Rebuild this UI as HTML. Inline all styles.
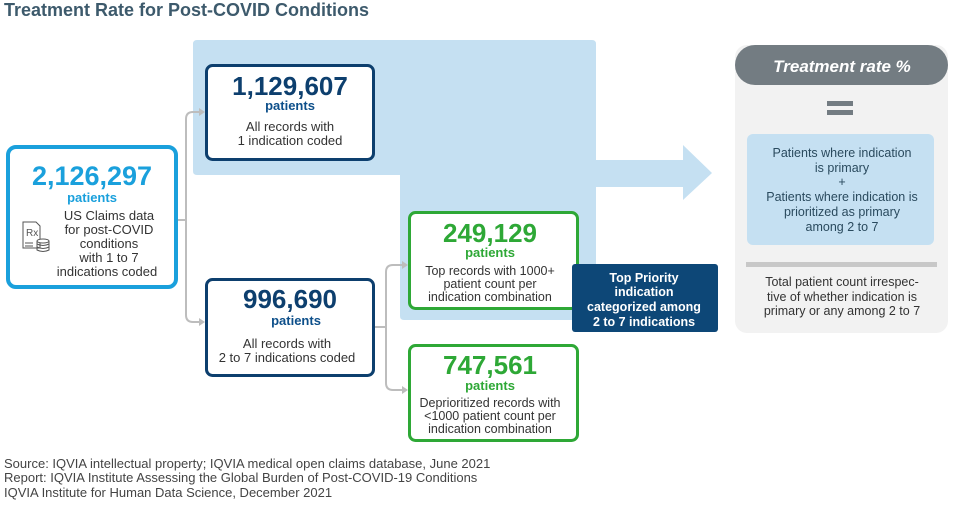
<!DOCTYPE html>
<html><head><meta charset="utf-8"><style>
html,body{margin:0;padding:0;background:#fff;}
body{width:954px;height:503px;overflow:hidden;font-family:"Liberation Sans",sans-serif;}
</style></head><body>
<svg width="954" height="503" viewBox="0 0 954 503" xmlns="http://www.w3.org/2000/svg" font-family="Liberation Sans, sans-serif">
<text x="4" y="16" font-size="18" font-weight="bold" fill="#3d5a6c">Treatment Rate for Post-COVID Conditions</text>

<g>
<path d="M197,40 H592 Q596,40 596,44 V160 H683 V145 L712,173 L683,200 V187 H596 V316 Q596,320 592,320 H404 Q400,320 400,316 V175 H197 Q193,175 193,171 V44 Q193,40 197,40 Z" fill="#c5e0f2"/>
</g>

<g fill="none" stroke="#bdbdbd" stroke-width="2">
<path d="M178,220 H186 M193,112 Q186,112 186,119 V315 Q186,322 193,322 H200"/>
<path d="M193,112 H200"/>
<path d="M374,327 H386 M393,265 Q386,265 386,272 V383 Q386,390 393,390 H403"/>
<path d="M393,265 H403"/>
</g>
<g fill="#bdbdbd">
<path d="M199,108 L205,112 L199,116 Z"/><path d="M199,318 L205,322 L199,326 Z"/>
<path d="M402,261 L408,265 L402,269 Z"/><path d="M402,386 L408,390 L402,394 Z"/>
</g>

<g>
<rect x="8" y="147" width="168" height="140" rx="8" fill="#fff" stroke="#1aa0dc" stroke-width="4"/>
<text x="92" y="185" text-anchor="middle" font-size="27" font-weight="bold" fill="#1aa0dc">2,126,297</text>
<text x="92" y="202" text-anchor="middle" font-size="13" font-weight="bold" fill="#1aa0dc">patients</text>
<g font-size="13" fill="#333" text-anchor="middle">
<text x="109" y="220">US Claims data</text><text x="109" y="234">for post-COVID</text><text x="109" y="248">conditions</text><text x="109" y="262">with 1 to 7</text><text x="107" y="276">indications coded</text>
</g>
<g fill="none" stroke="#555" stroke-width="1">
<path d="M23,222 H36 L40,226 V248 H23 Z"/><text x="26" y="236" font-size="10" fill="#555" stroke="none">Rx</text>
<path d="M25,243 H33 M25,246 H33"/>
<ellipse cx="43" cy="241" rx="6" ry="2" fill="#fff"/><path d="M37,241 V250 Q43,253 49,250 V241"/><path d="M37,244 Q43,247 49,244 M37,247 Q43,250 49,247"/>
</g>
</g>

<g>
<rect x="206.5" y="65.5" width="167" height="94" rx="6" fill="#fff" stroke="#0d3f6e" stroke-width="3"/>
<text x="290" y="95" text-anchor="middle" font-size="26" font-weight="bold" fill="#0d3f6e">1,129,607</text>
<text x="290" y="110" text-anchor="middle" font-size="13" font-weight="bold" fill="#0d4f8a">patients</text>
<text x="290" y="131" text-anchor="middle" font-size="13" fill="#333">All records with</text>
<text x="290" y="145" text-anchor="middle" font-size="13" fill="#333">1 indication coded</text>
</g>

<g>
<rect x="206.5" y="279.5" width="167" height="96" rx="6" fill="#fff" stroke="#0d3f6e" stroke-width="3"/>
<text x="290" y="308" text-anchor="middle" font-size="26" font-weight="bold" fill="#0d3f6e">996,690</text>
<text x="296" y="325" text-anchor="middle" font-size="13" font-weight="bold" fill="#0d4f8a">patients</text>
<text x="287" y="348" text-anchor="middle" font-size="13" fill="#333">All records with</text>
<text x="287" y="362" text-anchor="middle" font-size="13" fill="#333">2 to 7 indications coded</text>
</g>

<g>
<rect x="409.5" y="212.5" width="168" height="96" rx="6" fill="#fff" stroke="#2ea836" stroke-width="3"/>
<text x="490" y="242" text-anchor="middle" font-size="26" font-weight="bold" fill="#2ea836">249,129</text>
<text x="490" y="257" text-anchor="middle" font-size="13" font-weight="bold" fill="#2ea836">patients</text>
<g font-size="12.5" fill="#333" text-anchor="middle"><text x="490" y="275">Top records with 1000+</text><text x="490" y="288">patient count per</text><text x="490" y="301">indication combination</text></g>
</g>

<g>
<rect x="409.5" y="345.5" width="168" height="95" rx="6" fill="#fff" stroke="#2ea836" stroke-width="3"/>
<text x="490" y="374" text-anchor="middle" font-size="26" font-weight="bold" fill="#2ea836">747,561</text>
<text x="490" y="390" text-anchor="middle" font-size="13" font-weight="bold" fill="#2ea836">patients</text>
<g font-size="12.5" fill="#333" text-anchor="middle"><text x="490" y="407">Deprioritized records with</text><text x="490" y="420">&lt;1000 patient count per</text><text x="490" y="433">indication combination</text></g>
</g>

<g>
<rect x="572" y="264" width="146" height="68" rx="3" fill="#0d4777"/>
<g font-size="12.5" font-weight="bold" fill="#fff" text-anchor="middle"><text x="644" y="282">Top Priority</text><text x="644" y="296">indication</text><text x="644" y="311">categorized among</text><text x="644" y="326">2 to 7 indications</text></g>
</g>

<g>
<rect x="735" y="45" width="213" height="288" rx="12" fill="#f2f2f2"/>
<rect x="735" y="45" width="213" height="40" rx="20" fill="#737c82"/>
<text x="842" y="72" text-anchor="middle" font-size="17" font-weight="bold" font-style="italic" fill="#fff">Treatment rate %</text>
<rect x="827" y="101" width="26" height="5" fill="#737c82"/><rect x="827" y="110" width="26" height="5" fill="#737c82"/>
<rect x="747" y="134" width="187" height="111" rx="6" fill="#c5e0f2"/>
<g font-size="12.5" fill="#2a4a5e" text-anchor="middle"><text x="842" y="157">Patients where indication</text><text x="842" y="172">is primary</text><text x="842" y="186">+</text><text x="842" y="201">Patients where indication is</text><text x="842" y="216">prioritized as primary</text><text x="842" y="231">among 2 to 7</text></g>
<rect x="746" y="262" width="191" height="5" fill="#c8c8c8"/>
<g font-size="12.5" fill="#333" text-anchor="middle"><text x="842" y="286">Total patient count irrespec-</text><text x="842" y="301">tive of whether indication is</text><text x="842" y="315">primary or any among 2 to 7</text></g>
</g>

<g font-size="13" fill="#444">
<text x="4" y="468">Source: IQVIA intellectual property; IQVIA medical open claims database, June 2021</text>
<text x="4" y="482">Report: IQVIA Institute Assessing the Global Burden of Post-COVID-19 Conditions</text>
<text x="4" y="497">IQVIA Institute for Human Data Science, December 2021</text>
</g>
</svg>
</body></html>
